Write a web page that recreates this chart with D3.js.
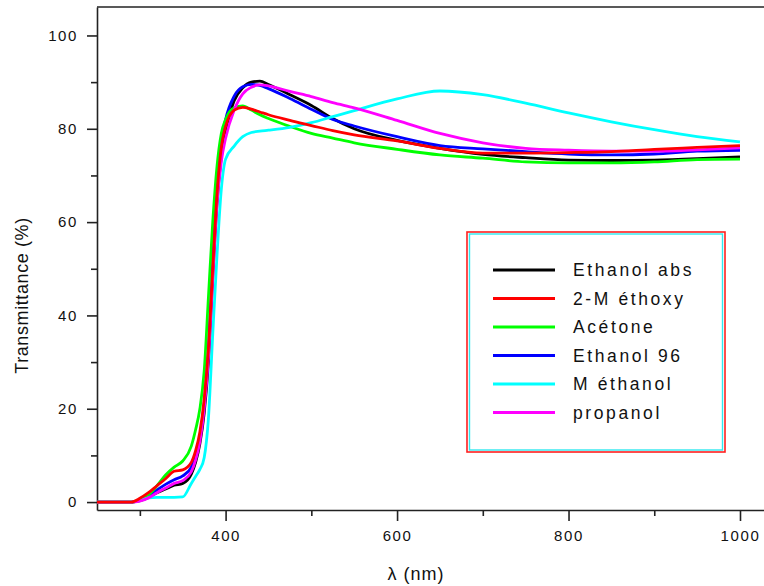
<!DOCTYPE html>
<html>
<head>
<meta charset="utf-8">
<script src="https://cdn.jsdelivr.net/npm/d3@7"></script>
<style>
  body { margin: 0; background: #fff; }
  svg { display: block; font-family: Arial, "Liberation Sans", sans-serif; }
  .axis path, .axis line { stroke: #222; stroke-width: 1.6px; }
  .axis text { font-size: 15px; fill: #111; letter-spacing: 1.6px; }
</style>
</head>
<body>
<script>
// wavelength grid (nm) shared by every series
const wavelengths = [250, 290, 300, 310, 320, 330, 340, 350, 360, 365, 370, 375, 380, 385, 390, 395, 400, 410, 420, 430, 440, 450, 475, 500, 525, 550, 600, 650, 700, 750, 800, 850, 900, 950, 1000];

const ethanolAbs = [0, 0, 0.3, 1, 2, 2.8, 3.6, 4, 6, 8.5, 12.5, 19, 30, 48, 64, 74, 79.5, 86, 88.8, 90, 90.2, 89.5, 87.3, 85, 82.2, 80, 77.5, 75.8, 74.5, 73.8, 73.3, 73.2, 73.3, 73.6, 74];
const methoxy = [0, 0, 0.8, 2, 3.5, 5, 6.6, 6.9, 8.5, 11, 15, 22, 33, 50, 66, 76, 80.5, 84, 84.6, 84.2, 83.6, 83, 81.8, 80.7, 79.6, 78.7, 77.4, 75.8, 74.8, 74.8, 74.9, 75.1, 75.6, 76, 76.4];
const acetone = [0, 0, 0.3, 1.5, 3.5, 5.8, 7.5, 8.8, 12, 15.5, 20, 28, 44, 60, 72, 79, 82, 84.5, 84.9, 84, 83, 82.2, 80.5, 79, 78, 77, 75.6, 74.4, 73.7, 72.9, 72.7, 72.7, 72.9, 73.4, 73.5];
const ethanol96 = [0, 0, 0.4, 1.3, 2.6, 3.8, 4.8, 5.6, 7.5, 10, 14, 21, 33, 51, 67, 77, 82, 87, 89, 89.5, 89.3, 88.6, 86.5, 84.2, 82, 80.6, 78.3, 76.4, 75.7, 75.1, 74.6, 74.4, 74.6, 75.2, 75.4];
const methanol = [0, 0, 0.3, 0.9, 1, 1, 1, 1.1, 4, 5.5, 7, 9.5, 18, 36, 53, 67, 73.5, 76.3, 78.3, 79.2, 79.5, 79.7, 80.3, 81.3, 82.6, 83.9, 86.4, 88.1, 87.3, 85.5, 83.4, 81.5, 79.8, 78.3, 77.2];
const propanol = [0, 0, 0.2, 0.9, 2, 3, 4, 4.6, 6.5, 9, 13, 20, 31, 48, 64, 73, 78, 84, 87.5, 88.9, 89.4, 89.2, 88, 86.9, 85.6, 84.5, 81.8, 79, 77, 75.8, 75.4, 75.2, 75.2, 75.5, 75.9];

const seriesNames = ["Ethanol abs", "2-M éthoxy", "Acétone", "Ethanol 96", "M éthanol", "propanol"];
const seriesColors = ["#000000", "#ff0000", "#00ff00", "#0000ff", "#00ffff", "#ff00ff"];
const seriesValues = [ethanolAbs, methoxy, acetone, ethanol96, methanol, propanol];
// paint order, red ends on top
const drawOrder = [0, 3, 2, 4, 5, 1];

const xMajor = [400, 600, 800, 1000];
const xMinor = [300, 500, 700, 900];
const yMajor = [0, 20, 40, 60, 80, 100];
const yMinor = [10, 30, 50, 70, 90];

const width = 764, height = 586;
const plotLeft = 97, plotRight = 764, plotTop = 7, plotBottom = 510;

const svg = d3.select("body").append("svg")
  .attr("width", width)
  .attr("height", height);

const x = d3.scaleLinear().domain([250, 1028]).range([plotLeft, plotRight]);
const y = d3.scaleLinear().domain([-1.7, 106.1]).range([plotBottom, plotTop]);

// frame top line
svg.append("line")
  .attr("x1", plotLeft).attr("x2", plotRight)
  .attr("y1", plotTop).attr("y2", plotTop)
  .attr("stroke", "#222").attr("stroke-width", 1.6);

// axes
svg.append("g").attr("class", "axis")
  .attr("transform", `translate(0,${plotBottom})`)
  .call(d3.axisBottom(x).tickValues(xMinor).tickSize(6).tickFormat(""))
  .call(g => g.select(".domain").remove());
svg.append("g").attr("class", "axis")
  .attr("transform", `translate(0,${plotBottom})`)
  .call(d3.axisBottom(x).tickValues(xMajor).tickSize(11).tickSizeOuter(0).tickPadding(9).tickFormat(d3.format("d")));

svg.append("g").attr("class", "axis")
  .attr("transform", `translate(${plotLeft},0)`)
  .call(d3.axisLeft(y).tickValues(yMinor).tickSize(6).tickFormat(""))
  .call(g => g.select(".domain").remove());
svg.append("g").attr("class", "axis")
  .attr("transform", `translate(${plotLeft},0)`)
  .call(d3.axisLeft(y).tickValues(yMajor).tickSize(10).tickSizeOuter(0).tickPadding(9).tickFormat(d3.format("d")));

// curves
const line = d3.line()
  .x((d, i) => x(wavelengths[i]))
  .y(d => y(d))
  .curve(d3.curveMonotoneX);

const plot = svg.append("g");
plot.selectAll("path")
  .data(drawOrder)
  .join("path")
  .attr("d", k => line(seriesValues[k]))
  .attr("fill", "none")
  .attr("stroke", k => seriesColors[k])
  .attr("stroke-width", 2.8)
  .attr("stroke-linejoin", "round");

// axis titles
svg.append("text")
  .attr("transform", `translate(28,${(plotTop + plotBottom) / 2 + 37}) rotate(-90)`)
  .attr("text-anchor", "middle")
  .attr("font-size", 18)
  .attr("letter-spacing", 0.6)
  .attr("fill", "#111")
  .text("Transmittance (%)");

svg.append("text")
  .attr("x", 416)
  .attr("y", 580)
  .attr("text-anchor", "middle")
  .attr("font-size", 18)
  .attr("letter-spacing", 1)
  .attr("fill", "#111")
  .text("λ (nm)");

// legend
const legend = svg.append("g");
legend.append("rect")
  .attr("x", 467).attr("y", 232).attr("width", 258).attr("height", 220)
  .attr("fill", "#fff").attr("stroke", "#ff2020").attr("stroke-width", 1.6);
legend.append("rect")
  .attr("x", 469.5).attr("y", 234).attr("width", 253).attr("height", 216)
  .attr("fill", "none").attr("stroke", "#30e8f0").attr("stroke-width", 1.4);

const rows = legend.selectAll("g.row")
  .data(seriesNames)
  .join("g")
  .attr("class", "row")
  .attr("transform", (d, i) => `translate(0,${270 + i * 28.5})`);
rows.append("line")
  .attr("x1", 493).attr("x2", 555)
  .attr("stroke", (d, i) => seriesColors[i])
  .attr("stroke-width", 3);
rows.append("text")
  .attr("x", 573)
  .attr("dy", "0.35em")
  .attr("font-size", 17.5)
  .attr("letter-spacing", 2.6)
  .attr("fill", "#111")
  .text(d => d);
</script>
</body>
</html>
